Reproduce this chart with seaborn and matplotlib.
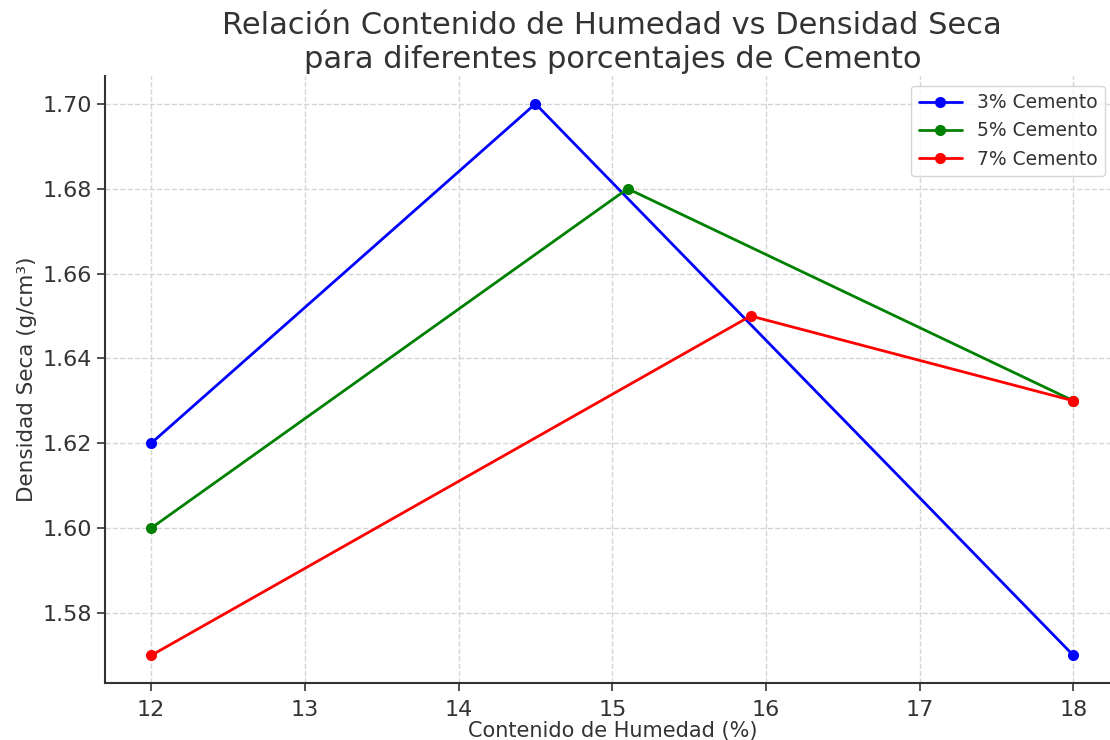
import matplotlib
matplotlib.use('Agg')
import pandas as pd
import matplotlib.pyplot as plt
import seaborn as sns

# data
humedad_3 = [12, 14.5, 18]
densidad_3 = [1.62, 1.70, 1.57]
humedad_5 = [12, 15.1, 18]
densidad_5 = [1.60, 1.68, 1.63]
humedad_7 = [12, 15.9, 18]
densidad_7 = [1.57, 1.65, 1.63]
series = ["3% Cemento", "5% Cemento", "7% Cemento"]
colores = ["blue", "green", "red"]

df = pd.concat([
    pd.DataFrame({"Humedad": humedad_3, "Densidad": densidad_3, "Serie": series[0]}),
    pd.DataFrame({"Humedad": humedad_5, "Densidad": densidad_5, "Serie": series[1]}),
    pd.DataFrame({"Humedad": humedad_7, "Densidad": densidad_7, "Serie": series[2]}),
])

sns.set_style("whitegrid", {"grid.linestyle": "--", "grid.color": "#d5d5d5",
                            "axes.edgecolor": "#333333", "xtick.bottom": True,
                            "ytick.left": True})
plt.rcParams['font.family'] = ['DejaVu Sans']
plt.rcParams['text.color'] = '#333333'
plt.rcParams['axes.labelcolor'] = '#333333'
plt.rcParams['xtick.color'] = '#333333'
plt.rcParams['ytick.color'] = '#333333'

fig = plt.figure(figsize=(11.1, 7.4), dpi=100)
ax = fig.add_axes([0.0946, 0.077, 0.914, 0.820])

sns.lineplot(data=df, x="Humedad", y="Densidad", hue="Serie", hue_order=series,
             palette=colores, marker="o", markersize=8, markeredgewidth=0,
             linewidth=2, ax=ax, sort=False)

ax.set_title("Relación Contenido de Humedad vs Densidad Seca\npara diferentes porcentajes de Cemento",
             fontsize=22, color='#333333')
ax.set_xlabel("Contenido de Humedad (%)", fontsize=15, labelpad=1)
ax.set_ylabel("Densidad Seca (g/cm³)", fontsize=15.5)
ax.tick_params(labelsize=16, length=6, width=1.2)
ax.tick_params(axis='x', pad=6)
ax.yaxis.set_major_formatter(matplotlib.ticker.FormatStrFormatter('%.2f'))
for s in ['top', 'right']:
    ax.spines[s].set_visible(False)
for s in ['left', 'bottom']:
    ax.spines[s].set_linewidth(1.5)
ax.grid(True, linestyle='--', color='#d5d5d5', linewidth=1)

leg = ax.legend(loc='upper right', fontsize=13.5, frameon=True, handlelength=2.3,
                bbox_to_anchor=(0.995, 1.0))
leg.get_frame().set_edgecolor('#cccccc')

fig.savefig("out.png", dpi=100)
plt.close()
